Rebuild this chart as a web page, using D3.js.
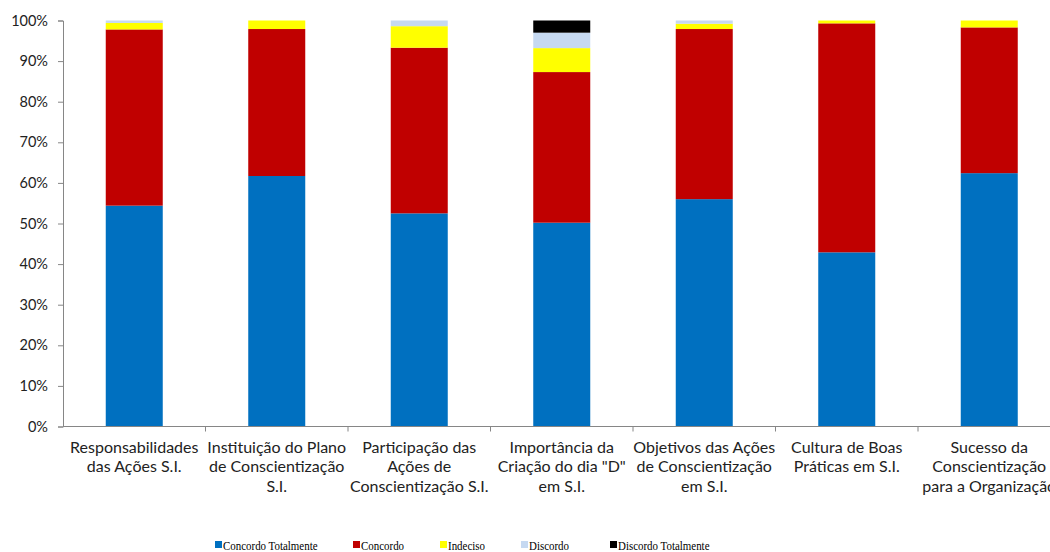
<!DOCTYPE html>
<html>
<head>
<meta charset="utf-8">
<script src="https://cdn.jsdelivr.net/npm/d3@7"></script>
<style>
  html, body { margin: 0; padding: 0; background: #fff; }
  svg { display: block; }
</style>
</head>
<body>
<svg id="chart" width="1050" height="552"></svg>
<script>
// Categories (each label split into its display lines)
const categories = [
  ["Responsabilidades", "das Ações S.I."],
  ["Instituição do Plano", "de Conscientização", "S.I."],
  ["Participação das", "Ações de", "Conscientização S.I."],
  ["Importância da", "Criação do dia \"D\"", "em S.I."],
  ["Objetivos das Ações", "de Conscientização", "em S.I."],
  ["Cultura de Boas", "Práticas em S.I."],
  ["Sucesso da", "Conscientização", "para a Organização"]
];

// Series names and colours
const seriesNames = ["Concordo Totalmente", "Concordo", "Indeciso", "Discordo", "Discordo Totalmente"];
const seriesColors = ["#0070C0", "#C00000", "#FFFF00", "#C6D9F1", "#000000"];

// Percentages per series, one value per category
const concordoTotalmente = [54.4, 61.7, 52.5, 50.2, 56.0, 42.9, 62.4];
const concordo           = [43.4, 36.2, 40.8, 37.1, 41.9, 56.4, 35.9];
const indeciso           = [1.6,  2.1,  5.3,  5.9,  1.3,  0.7,  1.7];
const discordo           = [0.6,  0.0,  1.4,  3.8,  0.8,  0.0,  0.0];
const discordoTotalmente = [0.0,  0.0,  0.0,  3.0,  0.0,  0.0,  0.0];

// Y axis ticks
const yTicks = [0, 10, 20, 30, 40, 50, 60, 70, 80, 90, 100];

const seriesValues = [concordoTotalmente, concordo, indeciso, discordo, discordoTotalmente];
const rows = categories.map((c, i) => {
  const r = { key: i };
  seriesNames.forEach((s, j) => { r[s] = seriesValues[j][i]; });
  return r;
});

const svg = d3.select("#chart");
const axisFont = "Lato, 'Open Sans', sans-serif";

const x = d3.scaleBand()
  .domain(categories.map((c, i) => i))
  .range([63, 1060.5])
  .paddingInner(0.6)
  .paddingOuter(0.3);

const y = d3.scaleLinear().domain([0, 100]).range([426.5, 20.5]);

const stack = d3.stack().keys(seriesNames);
const layers = stack(rows);

// Stacked bars
svg.append("g").selectAll("g")
  .data(layers)
  .join("g")
  .attr("fill", (d, i) => seriesColors[i])
  .selectAll("rect")
  .data(d => d)
  .join("rect")
  .attr("x", d => x(d.data.key))
  .attr("width", x.bandwidth())
  .attr("y", d => y(d[1]))
  .attr("height", d => Math.max(0, y(d[0]) - y(d[1])));

// Y axis
const yAxis = svg.append("g")
  .attr("transform", "translate(63,0)")
  .call(d3.axisLeft(y).tickValues(yTicks).tickFormat(d => d + "%").tickSize(5).tickPadding(10));
yAxis.select(".domain").attr("stroke", "#868686");
yAxis.selectAll(".tick line").attr("stroke", "#868686");
yAxis.selectAll("text").attr("font-family", axisFont).attr("font-size", 14.5).attr("fill", "#222");

// X axis line with tick marks between categories
const xg = svg.append("g");
xg.append("line")
  .attr("x1", 63).attr("x2", 1050)
  .attr("y1", y(0)).attr("y2", y(0))
  .attr("stroke", "#868686");
const step = x.step();
const boundaries = d3.range(1, categories.length).map(i => x(i) - step * x.paddingInner() / 2);
xg.selectAll("line.tk")
  .data(boundaries)
  .join("line")
  .attr("class", "tk")
  .attr("x1", d => d).attr("x2", d => d)
  .attr("y1", y(0)).attr("y2", y(0) + 5)
  .attr("stroke", "#868686");

// Category labels
const lab = svg.append("g")
  .attr("font-family", axisFont)
  .attr("font-size", 16)
  .attr("fill", "#222")
  .attr("text-anchor", "middle");
categories.forEach((lines, i) => {
  const cx = x(i) + x.bandwidth() / 2;
  lines.forEach((t, k) => {
    lab.append("text")
      .attr("x", cx)
      .attr("y", 452.5 + k * 19.5)
      .text(t);
  });
});

// Legend (serif, slightly condensed)
const legendX = [215, 353, 440, 521, 610];
const leg = svg.append("g")
  .style("font-family", "'Liberation Serif', 'DejaVu Serif', serif")
  .attr("font-size", 13)
  .attr("fill", "#000");
seriesNames.forEach((s, i) => {
  leg.append("rect")
    .attr("x", legendX[i]).attr("y", 541)
    .attr("width", 7).attr("height", 7)
    .attr("fill", seriesColors[i]);
  leg.append("text")
    .attr("transform", `translate(${legendX[i] + 8},549.5) scale(0.84,1)`)
    .text(s);
});
</script>
</body>
</html>
